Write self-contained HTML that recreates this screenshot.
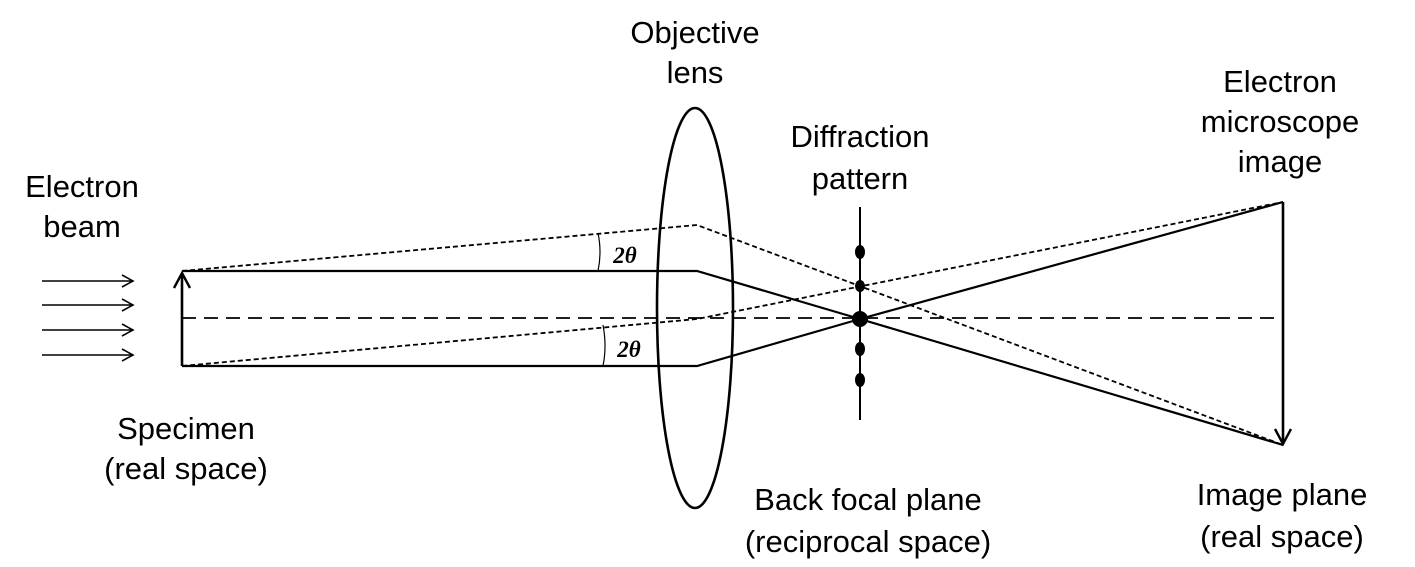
<!DOCTYPE html>
<html><head><meta charset="utf-8"><style>
html,body{margin:0;padding:0;background:#fff;width:1415px;height:567px;overflow:hidden}
svg text{font-family:"Liberation Sans",sans-serif;font-size:31px;fill:#000;text-anchor:middle}
</style></head><body>
<svg width="1415" height="567" viewBox="0 0 1415 567">
<defs>
<marker id="ah" markerWidth="14" markerHeight="14" refX="12" refY="7" orient="auto" markerUnits="userSpaceOnUse">
<path d="M1,1 L12,7 L1,13" fill="none" stroke="#000" stroke-width="1.6"/></marker>
<marker id="ah2" markerWidth="20" markerHeight="20" refX="17" refY="10" orient="auto" markerUnits="userSpaceOnUse">
<path d="M2,2 L17,10 L2,18" fill="none" stroke="#000" stroke-width="2.4"/></marker>
</defs>
<g stroke="#000" stroke-width="1.6">
<line x1="42" y1="281" x2="133" y2="281" marker-end="url(#ah)"/>
<line x1="42" y1="305" x2="133" y2="305" marker-end="url(#ah)"/>
<line x1="42" y1="330" x2="133" y2="330" marker-end="url(#ah)"/>
<line x1="42" y1="355" x2="133" y2="355" marker-end="url(#ah)"/>
</g>
<line x1="182" y1="318" x2="1283" y2="318" stroke="#000" stroke-width="1.7" stroke-dasharray="14,8"/>
<line x1="182" y1="366" x2="182" y2="273" stroke="#000" stroke-width="2.6" marker-end="url(#ah2)"/>
<ellipse cx="695" cy="308" rx="38" ry="200" fill="none" stroke="#000" stroke-width="2.6"/>
<g fill="none" stroke="#000" stroke-width="2.2">
<polyline points="182,271 697,271 860,319 1283,445"/>
<polyline points="182,366 697,366 860,319 1283,202"/>
</g>
<g fill="none" stroke="#000" stroke-width="1.8" stroke-dasharray="5,3">
<polyline points="182,271 697,225 1283,445"/>
<polyline points="182,366 697,319 1283,202"/>
</g>
<line x1="860" y1="207" x2="860" y2="420" stroke="#000" stroke-width="2"/>
<g fill="#000">
<ellipse cx="860" cy="252" rx="5" ry="7"/>
<ellipse cx="860" cy="286" rx="5" ry="6"/>
<ellipse cx="860" cy="319" rx="8" ry="8"/>
<ellipse cx="860" cy="349" rx="5" ry="7"/>
<ellipse cx="860" cy="380" rx="5" ry="7"/>
</g>
<line x1="1283" y1="202" x2="1283" y2="444" stroke="#000" stroke-width="2.6" marker-end="url(#ah2)"/>
<g fill="none" stroke="#000" stroke-width="1.2">
<path d="M598,233 Q602,252 598,271"/>
<path d="M603,325 Q607,346 603,366"/>
</g>
<text x="625" y="263" style="font-family:'Liberation Serif',serif;font-style:italic;font-weight:bold;font-size:23px">2θ</text>
<text x="629" y="357" style="font-family:'Liberation Serif',serif;font-style:italic;font-weight:bold;font-size:23px">2θ</text>
<text><tspan x="82" y="197">Electron</tspan><tspan x="82" y="237">beam</tspan></text>
<text><tspan x="695" y="43">Objective</tspan><tspan x="695" y="83">lens</tspan></text>
<text><tspan x="860" y="147">Diffraction</tspan><tspan x="860" y="189">pattern</tspan></text>
<text><tspan x="1280" y="92">Electron</tspan><tspan x="1280" y="132">microscope</tspan><tspan x="1280" y="172">image</tspan></text>
<text><tspan x="186" y="439">Specimen</tspan><tspan x="186" y="479">(real space)</tspan></text>
<text><tspan x="868" y="510">Back focal plane</tspan><tspan x="868" y="552">(reciprocal space)</tspan></text>
<text><tspan x="1282" y="505">Image plane</tspan><tspan x="1282" y="547">(real space)</tspan></text>
</svg>
</body></html>
